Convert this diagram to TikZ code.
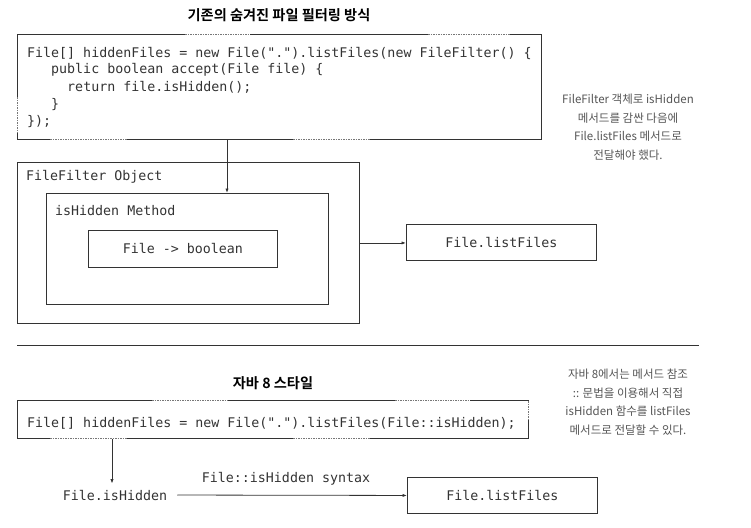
\documentclass[tikz,border=0pt]{standalone}
\usepackage{fontspec}
\setmonofont{DejaVu Sans Mono}
\newfontfamily\kr{Noto Sans CJK KR}
\newfontfamily\krb{Noto Sans CJK KR Bold}
\usetikzlibrary{arrows.meta}
\definecolor{ink}{HTML}{333333}
\definecolor{note}{HTML}{555555}
\definecolor{dotc}{HTML}{777777}
\tikzset{
  box/.style={draw=ink, line width=0.9pt, inner sep=0pt, anchor=north west},
  code/.style={font=\fontsize{13.3}{16}\selectfont\ttfamily, inner sep=0pt, anchor=base west, text=ink},
  label/.style={font=\fontsize{13.3}{16}\selectfont\ttfamily, inner sep=0pt, text=ink},
  heading/.style={font=\fontsize{14.2}{16}\selectfont\krb, inner sep=0pt, text=black},
  remark/.style={font=\fontsize{11.5}{18.5}\selectfont\kr, align=center, inner sep=0pt, text=note},
  arr/.style={draw=ink, line width=0.8pt, -{Latex[length=4.5pt,width=3.2pt]}},
  gap/.style={draw=white, line width=1.6pt},
  dots/.style={draw=dotc, line width=0.8pt, dash pattern=on 1.5pt off 1pt},
}
\begin{document}
\begin{tikzpicture}[x=1pt,y=-1pt]
\useasboundingbox (0,0) rectangle (751,527);

% ---------- anonymous class version ----------
\node[heading] (t1) at (279,15) {기존의 숨겨진 파일 필터링 방식};

\node[box, minimum width=524pt, minimum height=105pt] (code1) at (17,34) {};
% broken (dotted) stretches of the snippet frame
\draw[gap] (185,34) -- (250,34) (428,34) -- (510,34) (50,139) -- (127,139) (293,139) -- (370,139) (17,97) -- (17,133);
\draw[dots] (185,34) -- (250,34) (428,34) -- (510,34) (50,139) -- (127,139) (293,139) -- (370,139) (17,97) -- (17,133);

\node[code] (l1) at (27,57) {File[] hiddenFiles = new File(".").listFiles(new FileFilter() \{};
\node[code] (l2) at (27,74) {\hphantom{xxx}public boolean accept(File file) \{};
\node[code] (l3) at (27,91) {\hphantom{xxxxx}return file.isHidden();};
\node[code] (l4) at (27,108) {\hphantom{xxx}\}};
\node[code] (l5) at (27,125) {\});};

\node[box, minimum width=342pt, minimum height=161pt] (ffobj) at (17,162) {};
\node[label, anchor=west] (fft) at (26,177) {FileFilter Object};
\node[box, minimum width=282pt, minimum height=111pt] (ishm) at (46,193) {};
\node[label, anchor=west] (isht) at (55,211) {isHidden Method};
\node[box, minimum width=189pt, minimum height=37pt] (fb) at (88,230) {};
\node[label] (fbt) at (fb.center) {File -> boolean};

\node[box, minimum width=190pt, minimum height=36pt] (lf1) at (406,224) {};
\node[label] (lf1t) at (lf1.center) {File.listFiles};

\draw[arr] ([xshift=210pt]code1.south west) -- ([xshift=181pt]ishm.north west);
\draw[arr] (ffobj.east) -- (ffobj.east -| lf1.west);

\node[remark] (n1) at (628,127) {FileFilter 객체로 isHidden\\메서드를 감싼 다음에\\File.listFiles 메서드로\\전달해야 했다.};

% ---------- separator ----------
\coordinate (s1) at (17,345);
\coordinate (s2) at (699,345);
\draw[ink, line width=1pt] (s1) -- (s2);

% ---------- method reference version ----------
\node[heading] (t2) at (273,383) {자바 8 스타일};

\node[box, minimum width=511pt, minimum height=38pt] (code2) at (17,400) {};
\draw[gap] (152,400) -- (228,400) (395,400) -- (470,400) (50,438) -- (127,438) (293,438) -- (370,438) (528,401) -- (528,420);
\draw[dots] (152,400) -- (228,400) (395,400) -- (470,400) (50,438) -- (127,438) (293,438) -- (370,438) (528,401) -- (528,420);
\node[code] (m1) at (27,427) {File[] hiddenFiles = new File(".").listFiles(File::isHidden);};

\node[label] (ish) at (115,495) {File.isHidden};
\node[box, minimum width=190pt, minimum height=36pt] (lf2) at (407,477) {};
\node[label] (lf2t) at (lf2.center) {File.listFiles};
\node[label] (syn) at (286,479) {File::isHidden syntax};

\draw[arr, shorten >=6pt] ([xshift=95pt]code2.south west) -- ([xshift=95pt]code2.south west |- ish.north);
\draw[arr, shorten <=10pt] (ish.east) -- (lf2.west);

\node[remark] (n2) at (628,402) {자바 8에서는 메서드 참조\\:: 문법을 이용해서 직접\\isHidden 함수를 listFiles\\메서드로 전달할 수 있다.};
\end{tikzpicture}
\end{document}
